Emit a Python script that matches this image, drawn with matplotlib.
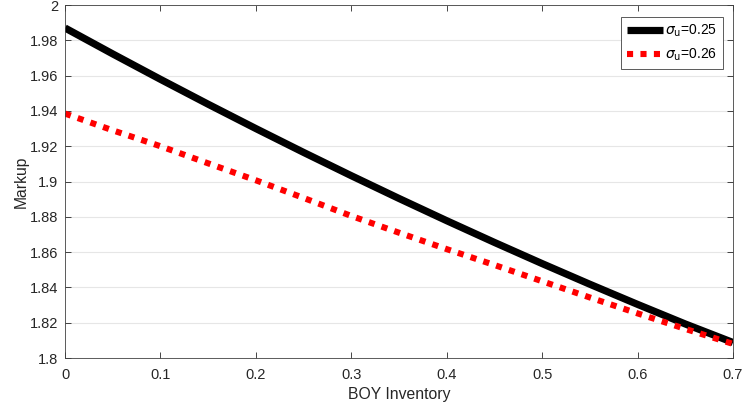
import matplotlib.pyplot as plt
import numpy as np

plt.rcParams['font.family'] = ['Liberation Sans', 'DejaVu Sans']
plt.rcParams['mathtext.fontset'] = 'dejavusans'

inventory = [0, 0.05, 0.1, 0.15, 0.2, 0.25, 0.3, 0.35, 0.4, 0.45, 0.5, 0.55, 0.6, 0.65, 0.7]
markup_025 = [1.9870, 1.9723, 1.9579, 1.9438, 1.9300, 1.9165, 1.9033, 1.8904, 1.8778,
              1.8655, 1.8535, 1.8418, 1.8304, 1.8193, 1.8088]
markup_026 = [1.9385, 1.9290, 1.9200, 1.9103, 1.9007, 1.8907, 1.8805, 1.8710, 1.8617,
              1.8527, 1.8435, 1.8343, 1.8253, 1.8165, 1.8080]
labels = [r'$\sigma_{\rm u}$=0.25', r'$\sigma_{\rm u}$=0.26']

fig = plt.figure(figsize=(7.43, 4.08), dpi=100)
ax = fig.add_axes([0.0875, 0.1225, 0.899, 0.8652])

ax.plot(inventory, markup_025, color='black', lw=5.2, label=labels[0], solid_capstyle='butt')
ax.plot(inventory, markup_026, color='red', lw=4.4, ls=(0, (1, 1.2)), label=labels[1])

ax.set_xlim(0, 0.7)
ax.set_ylim(1.8, 2.0)
ax.set_xticks(np.arange(0, 0.71, 0.1))
ax.set_xticklabels(['0', '0.1', '0.2', '0.3', '0.4', '0.5', '0.6', '0.7'])
ax.set_yticks(np.arange(1.8, 2.001, 0.02))
ax.set_yticklabels(['1.8', '1.82', '1.84', '1.86', '1.88', '1.9', '1.92', '1.94', '1.96', '1.98', '2'])
ax.yaxis.grid(True, color='#e6e6e6', lw=0.8)
ax.set_axisbelow(True)
ax.tick_params(direction='in', top=True, right=True, colors='#262626', labelsize=10.5, length=4, width=0.6)
ax.tick_params(axis='x', pad=7)
ax.tick_params(axis='y', pad=5)
for s in ax.spines.values():
    s.set_color('#404040')
    s.set_linewidth(0.6)

ax.set_xlabel('BOY Inventory', fontsize=11.3, color='#262626', labelpad=4)
ax.set_ylabel('Markup', fontsize=11.3, color='#262626', labelpad=1)

leg = ax.legend(loc='upper right', bbox_to_anchor=(0.985, 0.966), borderaxespad=0, fontsize=10,
                fancybox=False, edgecolor='#404040', framealpha=1, handlelength=2.6, borderpad=0.4,
                labelspacing=0.55, handletextpad=0.2)
leg.get_frame().set_linewidth(0.6)

fig.savefig('out.png', dpi=100)
